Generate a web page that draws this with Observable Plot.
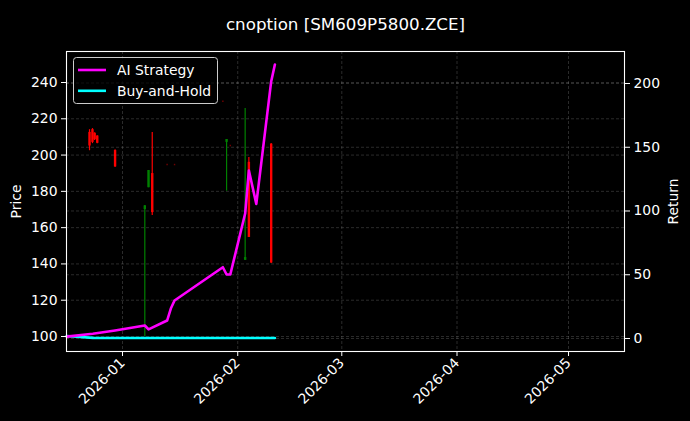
<!DOCTYPE html>
<html>
<head>
<meta charset="utf-8">
<script src="https://cdn.jsdelivr.net/npm/d3@7"></script>
<script src="https://cdn.jsdelivr.net/npm/@observablehq/plot@0.6"></script>
<style>
  html, body { margin: 0; padding: 0; background: #000; }
  #chart { width: 690px; height: 421px; }
</style>
</head>
<body>
<div id="chart"></div>
<script>
// ---- data ----
const candleDates = ["2025-12-23T03:00Z", "2025-12-23T22:00Z", "2025-12-24T12:00Z", "2025-12-25T05:00Z",
  "2025-12-30T00:00Z", "2026-01-07T00:00Z", "2026-01-08T00:00Z", "2026-01-09T00:00Z",
  "2026-01-13T00:00Z", "2026-01-15T00:00Z", "2026-01-28T00:00Z", "2026-01-29T00:00Z",
  "2026-01-30T00:00Z", "2026-02-03T00:00Z", "2026-02-04T00:00Z", "2026-02-10T00:00Z"];
const opens  = [212.5, 214.0, 212.0, 210.5, 202.5, 170.0, 182.0, 189.8, 194.5, 194.5, 229.4, 207.0, 205.0, 142.0, 196.0, 206.0];
const highs  = [214.0, 214.6, 212.3, 210.6, 203.0, 172.2, 191.5, 212.4, 194.6, 194.6, 229.5, 208.6, 205.1, 225.7, 198.7, 206.4];
const lows   = [202.4, 206.3, 208.0, 206.3, 193.1, 100.0, 182.0, 166.7, 194.4, 194.4, 229.3, 180.1, 204.9, 141.9, 154.6, 140.2];
const closes = [205.0, 207.0, 208.5, 206.5, 193.5, 172.0, 191.5, 168.3, 194.5, 194.5, 229.4, 208.6, 205.0, 143.5, 154.6, 140.5];

const retDates = ["2025-12-17", "2025-12-24", "2025-12-30", "2026-01-07", "2026-01-08", "2026-01-13",
  "2026-01-14", "2026-01-15", "2026-01-28", "2026-01-29", "2026-01-30", "2026-02-03",
  "2026-02-04", "2026-02-06", "2026-02-10", "2026-02-11"];
const aiReturn = [1.5, 3.7, 6.3, 10.2, 7.1, 14.1, 23.5, 29.8, 55.9, 50.2, 50.2, 98.0, 131.8, 105.6, 201.6, 214.9];
const bhReturn = [2.0, 0.5, 0.4, 0.4, 0.4, 0.4, 0.4, 0.4, 0.4, 0.4, 0.4, 0.4, 0.4, 0.4, 0.4, 0.4];

const priceTicks = [100, 120, 140, 160, 180, 200, 220, 240];
const returnTicks = [0, 50, 100, 150, 200];
const monthTicks = ["2026-01-01", "2026-02-01", "2026-03-01", "2026-04-01", "2026-05-01"];

const titleText = "cnoption [SM609P5800.ZCE]";
const seriesNames = ["AI Strategy", "Buy-and-Hold"];
const seriesColors = ["#ff00ff", "#00ffff"];

// ---- scales ----
const priceDomain = [91.73, 257.09];
const returnDomain = [-10.2, 225.1];
const xDomain = [new Date("2025-12-16T22:20Z"), new Date("2026-05-16T01:30Z")];
const toPrice = r => priceDomain[0] + (r - returnDomain[0]) * (priceDomain[1] - priceDomain[0]) / (returnDomain[1] - returnDomain[0]);
const fromPrice = p => returnDomain[0] + (p - priceDomain[0]) * (returnDomain[1] - returnDomain[0]) / (priceDomain[1] - priceDomain[0]);

const candles = candleDates.map((d, i) => ({
  date: new Date(d), open: opens[i], high: highs[i], low: lows[i], close: closes[i],
  up: closes[i] >= opens[i]
}));
const dojiIdx = new Set([8, 9, 10, 12]);
const bars = candles.filter((d, i) => !dojiIdx.has(i));
const dojis = candles.filter((d, i) => dojiIdx.has(i));

const ai = retDates.map((d, i) => ({date: new Date(d), r: aiReturn[i]}));
const bh = retDates.map((d, i) => ({date: new Date(d), r: bhReturn[i]}));

const gridStyle = {stroke: "#b0b0b0", strokeOpacity: 0.35, strokeWidth: 0.7, strokeDasharray: "3,2"};
const FS = 13.9;

const svg = Plot.plot({
  width: 690, height: 421,
  marginLeft: 66, marginRight: 66, marginTop: 51, marginBottom: 70,
  style: {background: "#000", color: "#fff", fontFamily: "'DejaVu Sans', sans-serif"},
  x: {type: "utc", domain: xDomain},
  y: {domain: priceDomain},
  marks: [
    Plot.ruleX(monthTicks.map(d => new Date(d)), {x: d => d, ...gridStyle}),
    Plot.ruleY(priceTicks, {y: d => d, ...gridStyle}),
    Plot.ruleY(returnTicks, {y: d => toPrice(d), ...gridStyle}),
    // candles: wicks and bodies
    Plot.ruleX(bars, {x: "date", y1: "low", y2: "high", stroke: d => d.up ? "#008000" : "#ff0000", strokeWidth: 1.2}),
    Plot.ruleX(bars, {x: "date", y1: "open", y2: "close", stroke: d => d.up ? "#008000" : "#ff0000", strokeWidth: 2.4}),
    Plot.ruleX(dojis, {x: "date", y1: d => d.low - 0.3, y2: d => d.high + 0.3, stroke: "#ff0000", strokeOpacity: 0.45, strokeWidth: 1.4}),
    // return lines on secondary axis
    Plot.line(bh, {x: "date", y: d => toPrice(d.r), stroke: seriesColors[1], strokeWidth: 2.6}),
    Plot.line(ai, {x: "date", y: d => toPrice(d.r), stroke: seriesColors[0], strokeWidth: 2.6}),
    Plot.frame({stroke: "#fff", strokeWidth: 1.1}),
    Plot.axisY({ticks: priceTicks, tickSize: 5, tickPadding: 4, fontSize: FS, label: null}),
    Plot.axisY({anchor: "right", ticks: returnTicks.map(toPrice), tickFormat: p => String(Math.round(fromPrice(p))), tickSize: 5, tickPadding: 4, fontSize: FS, label: null}),
    Plot.axisX({ticks: monthTicks.map(d => new Date(d)), tickFormat: d3.utcFormat("%Y-%m"), tickRotate: -45, tickSize: 5, tickPadding: 4, fontSize: FS, label: null}),
    Plot.text([titleText], {text: d => d, frameAnchor: "top", dy: -33, fontSize: 16.7, textAnchor: "middle", fill: "#fff"}),
    Plot.text(["Price"], {text: d => d, frameAnchor: "left", dx: -50, rotate: -90, textAnchor: "middle", fontSize: FS, fill: "#fff"}),
    Plot.text(["Return"], {text: d => d, frameAnchor: "right", dx: 49, rotate: -90, textAnchor: "middle", fontSize: FS, fill: "#fff"})
  ]
});

// legend
const g = d3.select(svg).append("g").attr("font-family", "'DejaVu Sans', sans-serif").attr("font-size", FS).attr("text-anchor", "start");
g.append("rect").attr("x", 73.5).attr("y", 57.5).attr("width", 144).attr("height", 46).attr("rx", 3)
  .attr("fill", "#000").attr("fill-opacity", 0.8).attr("stroke", "#cccccc").attr("stroke-width", 1);
seriesNames.forEach((name, i) => {
  const y = 70 + i * 20.8;
  g.append("line").attr("x1", 78).attr("x2", 106).attr("y1", y).attr("y2", y)
    .attr("stroke", seriesColors[i]).attr("stroke-width", 2.6);
  g.append("text").attr("x", 117).attr("y", y).attr("dy", "0.35em").attr("text-anchor", "start").attr("fill", "#fff").text(name);
});

document.getElementById("chart").appendChild(svg);
</script>
</body>
</html>
